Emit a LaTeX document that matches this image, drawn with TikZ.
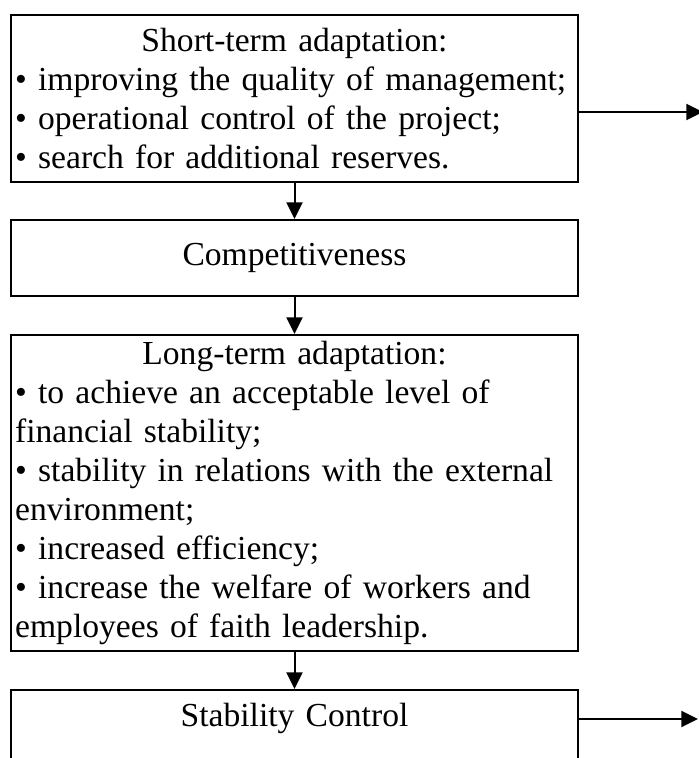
\documentclass[tikz,border=0pt]{standalone}
\usepackage{fontspec}
\setmainfont{Liberation Serif}
\usetikzlibrary{arrows.meta,positioning}
\definecolor{ink}{RGB}{0,0,0}
\tikzset{
  >={Triangle[length=12.5pt,width=12pt]},
  stage/.style={draw=ink,line width=1.5pt,minimum width=425.25pt,text width=419pt,
    inner xsep=2.8pt,inner ysep=2pt,font=\fontsize{25.2}{29.25}\selectfont,align=left},
  flow/.style={->,line width=1.5pt,draw=ink},
}
\newcommand\head[1]{{\centering #1\par}\raggedright}

\begin{document}
\begin{tikzpicture}[x=0.75pt,y=-0.75pt]
    \clip (0,0) rectangle (699,758);
    \fill[white] (0,0) rectangle (699,758);
    \node[stage,minimum height=125.25pt] (short) at (294.5,98.5) {\head{Short-term adaptation:}%
      • improving the quality of management;\\
      • operational control of the project;\\
      • search for additional reserves.};
    \node[stage,minimum height=57pt,align=center] (comp) at (294.5,258) {Competitiveness};
    \node[stage,minimum height=237pt] (long) at (294.5,493) {\head{Long-term adaptation:}%
      • to achieve an acceptable level of\\
      financial stability;\\
      • stability in relations with the external\\
      environment;\\
      • increased efficiency;\\
      • increase the welfare of workers and\\
      employees of faith leadership.};
    \node[stage,minimum height=76pt,align=center,anchor=north] (ctrl) at (294.5,689) {Stability Control\\ \strut};
    % exits to the right
    \coordinate (out1) at (703,112);
    \coordinate (out2) at (698,719);
    \draw[flow] (short) -- (comp);
    \draw[flow] (comp) -- (long);
    \draw[flow] (long) -- (ctrl);
    \draw[flow] (short.east |- out1) -- (out1);
    \draw[flow] (ctrl.east |- out2) -- (out2);
  \end{tikzpicture}
\end{document}
